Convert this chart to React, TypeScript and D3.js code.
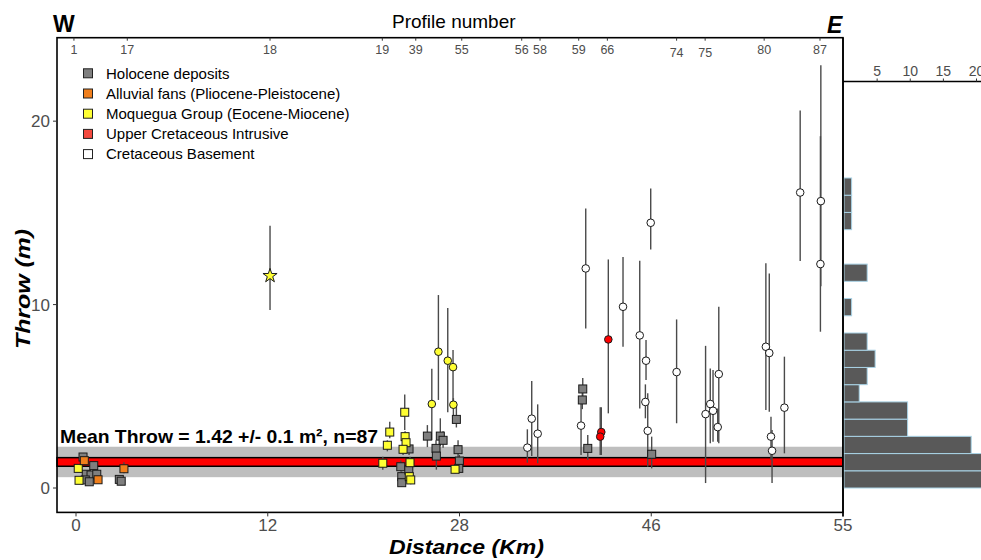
import React from "react";
import * as d3 from "d3";

// [distance km, throw m, low, high]
const holocene: number[][] = [
  [0.44, 1.69, 1.5, 1.9], [1.11, 1.22, 1.0, 1.45], [0.64, 0.75, 0.55, 0.95], [0.94, 0.71, 0.5, 0.9],
  [1.3, 0.75, 0.55, 0.95], [0.58, 0.44, 0.3, 0.6], [0.83, 0.34, 0.2, 0.5], [2.71, 0.47, 0.3, 0.65],
  [2.83, 0.37, 0.2, 0.55], [23.79, 2.13, 1.8, 2.5], [23.1, 1.16, 0.9, 1.5], [23.18, 0.62, 0.4, 0.9],
  [23.18, 0.29, 0.1, 0.5], [23.77, 0.98, 0.7, 1.3], [25.32, 2.83, 2.23, 3.43], [26.4, 2.83, 2.3, 3.8],
  [26.63, 2.6, 2.2, 3.1], [26.04, 2.16, 1.7, 2.6], [26.07, 1.74, 1.0, 2.1], [27.74, 3.74, 3.3, 4.6],
  [27.88, 2.09, 1.6, 2.6], [27.99, 1.47, 1.1, 1.8], [27.94, 1.07, 0.8, 1.4], [39.57, 5.4, 4.9, 6.0],
  [39.53, 4.8, 4.3, 5.4], [40.04, 2.16, 1.53, 2.89], [46.02, 1.84, 1.07, 2.8],
];
const alluvial: number[][] = [
  [0.52, 1.49, 1.3, 1.85], [1.38, 0.45, 0.3, 0.6], [3.0, 1.05, 0.8, 1.4],
];
const moqueguaSquares: number[][] = [
  [0.14, 1.07, 0.9, 1.25], [0.19, 0.42, 0.3, 0.55], [21.6, 1.35, 1.0, 1.7], [21.98, 2.33, 2.0, 2.6],
  [22.18, 3.05, 2.71, 3.61], [23.43, 4.13, 3.16, 5.1], [23.46, 2.8, 2.5, 3.1], [23.54, 2.47, 2.2, 2.8],
  [23.29, 2.11, 1.8, 2.4], [23.87, 1.38, 1.1, 1.7], [23.81, 0.62, 0.4, 0.9], [23.93, 0.44, 0.2, 0.7],
  [27.63, 1.02, 0.8, 1.3],
];
const moqueguaCircles: number[][] = [
  [26.24, 7.43, 4.8, 10.52], [27.02, 6.94, 4.13, 9.82], [27.46, 6.59, 4.52, 7.52],
  [25.69, 4.58, 2.6, 6.5], [27.49, 4.54, 3.52, 4.9],
];
const moqueguaStar: number[][] = [[12.19, 11.57, 9.7, 14.3]];
const intrusive: number[][] = [
  [41.31, 3.05, 1.8, 4.4], [41.21, 2.8, 1.8, 4.4], [41.97, 8.1, 4.07, 12.46],
];
const basement: number[][] = [
  [34.37, 2.2, 1.38, 3.2], [34.78, 3.78, 1.74, 5.83], [35.34, 2.96, 1.35, 4.56], [39.85, 11.97, 8.7, 15.24],
  [39.41, 3.4, 1.8, 4.63], [43.35, 9.88, 7.7, 12.6], [45.95, 14.46, 13.0, 16.33], [44.92, 8.32, 4.34, 12.39],
  [45.51, 6.94, 5.89, 8.07], [45.45, 4.69, 3.8, 5.65], [45.67, 3.12, 1.16, 5.16], [47.19, 6.32, 3.53, 9.19],
  [48.55, 4.03, 0.27, 7.75], [48.77, 4.58, 2.44, 6.52], [48.9, 4.21, 2.52, 6.43], [49.12, 3.32, 2.52, 4.34],
  [49.17, 6.21, 2.44, 9.88], [51.38, 7.7, 4.25, 12.25], [51.54, 7.36, 4.16, 11.7], [51.62, 2.8, 1.53, 3.89],
  [51.67, 2.03, 0.27, 3.16], [52.25, 4.38, 1.89, 7.16], [52.99, 16.11, 12.37, 20.58], [53.96, 15.64, 11.0, 23.05],
  [53.94, 12.21, 8.52, 19.18],
];

const xTicks = [0, 12, 28, 46, 55];
const yTicks = [0, 10, 20];
const profileNumbers = [1, 17, 18, 19, 39, 55, 56, 58, 59, 66, 74, 75, 80, 87];
const profileDistances = [-0.13, 3.21, 12.19, 21.56, 24.35, 28.21, 33.84, 35.56, 39.19, 41.88, 47.19, 48.53, 51.3, 53.92];

const meanThrow = 1.42;
const meanBandHalf = 0.235;
const greyBandHalf = 0.83;

const histBinWidth = 0.939;
const histCounts = [26, 26, 19.2, 9.6, 9.6, 2.3, 3.5, 4.7, 3.5, 0, 1.15, 0, 3.5, 0, 0, 1.15, 1.15, 1.15];
const histTicks = [5, 10, 15, 20];

const legendItems = [
  "Holocene deposits",
  "Alluvial fans (Pliocene-Pleistocene)",
  "Moquegua Group (Eocene-Miocene)",
  "Upper Cretaceous Intrusive",
  "Cretaceous Basement",
];
const legendColors = ["#7f7f7f", "#f07f1c", "#ffff33", "#f44a3f", "#ffffff"];

const FONT = "'Liberation Sans', Arial, Helvetica, sans-serif";

export default function App() {
  const W = 981, H = 560;
  const left = 57, right = 843, top = 37.7, bottom = 512.4;
  const x = d3.scaleLinear().domain(xTicks).range([76, 267.75, 459.5, 651.25, 843]);
  const y = d3.scaleLinear().domain([-1.33, 24.55]).range([bottom, top]);
  const hx = d3.scaleLinear().domain([0, 20]).range([844, 976.5]);
  const histAxisY = 81.5;

  const errColor = "#4a4a4a";
  const errBars = (data: number[][], key: string) =>
    data.map((d, i) => (
      <line key={key + i} x1={x(d[0])} x2={x(d[0])} y1={y(d[2])} y2={y(d[3])} stroke={errColor} strokeWidth={1.4} />
    ));
  const squares = (data: number[][], fill: string, key: string) =>
    data.map((d, i) => (
      <rect key={key + i} x={x(d[0]) - 4} y={y(d[1]) - 4} width={8} height={8} fill={fill} stroke="#1a1a1a" strokeWidth={1} />
    ));
  const circles = (data: number[][], fill: string, key: string) =>
    data.map((d, i) => (
      <circle key={key + i} cx={x(d[0])} cy={y(d[1])} r={3.8} fill={fill} stroke="#1a1a1a" strokeWidth={1} />
    ));
  const starPath = d3.symbol(d3.symbolStar, 62)() as string;

  return (
    <svg width={W} height={H} style={{ position: "absolute", left: 0, top: 0, background: "#fff" }} fontFamily={FONT}>
      {/* bands */}
      <rect x={left} width={right - left} y={y(meanThrow + greyBandHalf)} height={y(meanThrow - greyBandHalf) - y(meanThrow + greyBandHalf)} fill="#bebebe" />
      <rect x={left} width={right - left} y={y(meanThrow + meanBandHalf)} height={y(meanThrow - meanBandHalf) - y(meanThrow + meanBandHalf)} fill="#ff0000" stroke="#000" strokeWidth={1.5} />

      {/* error bars */}
      {errBars(basement, "eb")}
      {errBars(intrusive, "ei")}
      {errBars(moqueguaCircles, "emc")}
      {errBars(moqueguaStar, "ems")}
      {errBars(holocene, "eh")}
      {errBars(alluvial, "ea")}
      {errBars(moqueguaSquares, "ems2")}

      {/* points */}
      {circles(basement, "#ffffff", "pb")}
      {circles(intrusive, "#ff0000", "pi")}
      {circles(moqueguaCircles, "#ffff33", "pmc")}
      {moqueguaStar.map((d, i) => (
        <path key={"st" + i} d={starPath} transform={`translate(${x(d[0])},${y(d[1])})`} fill="#ffff33" stroke="#1a1a1a" strokeWidth={1} />
      ))}
      {squares(holocene, "#7f7f7f", "ph")}
      {squares(moqueguaSquares, "#ffff33", "pms")}
      {squares(alluvial, "#f07f1c", "pa")}

      {/* mean label */}
      <text x={60} y={443} fontSize={19} fontWeight="bold" textLength={318} lengthAdjust="spacingAndGlyphs" fill="#000">
        Mean Throw = 1.42 +/- 0.1 m², n=87
      </text>

      {/* panel border */}
      <rect x={left} y={top} width={right - left} height={bottom - top} fill="none" stroke="#000" strokeWidth={1.6} />

      {/* y axis */}
      {yTicks.map((t) => (
        <g key={"yt" + t}>
          <line x1={left - 4} x2={left} y1={y(t)} y2={y(t)} stroke="#333" />
          <text x={left - 7} y={y(t) + 6} textAnchor="end" fontSize={17} fill="#4d4d4d">{t}</text>
        </g>
      ))}
      {/* x axis */}
      {xTicks.map((t) => (
        <g key={"xt" + t}>
          <line x1={x(t)} x2={x(t)} y1={bottom} y2={bottom + 4} stroke="#333" />
          <text x={x(t)} y={531} textAnchor="middle" fontSize={17} fill="#4d4d4d">{t}</text>
        </g>
      ))}
      {/* top profile axis */}
      {profileNumbers.map((p, i) => (
        <g key={"pt" + p}>
          <line x1={x(profileDistances[i])} x2={x(profileDistances[i])} y1={top} y2={top + 3} stroke="#333" />
          <text x={x(profileDistances[i])} y={p === 74 || p === 75 ? 57 : 54} textAnchor="middle" fontSize={12.5} fill="#4d4d4d">{p}</text>
        </g>
      ))}

      <text x={392} y={28} fontSize={19} fill="#000">Profile number</text>
      <text x={53} y={31.5} fontSize={23} fontWeight="bold" fill="#000">W</text>
      <text x={827} y={33} fontSize={23} fontWeight="bold" fontStyle="italic" fill="#000">E</text>

      <text x={389} y={554} fontSize={20} fontWeight="bold" fontStyle="italic" textLength={155} lengthAdjust="spacingAndGlyphs" fill="#000">Distance (Km)</text>
      <text transform="translate(30,289) rotate(-90)" textAnchor="middle" fontSize={21} fontWeight="bold" fontStyle="italic" textLength={120} lengthAdjust="spacingAndGlyphs" fill="#000">Throw (m)</text>

      {/* legend */}
      {legendItems.map((s, i) => (
        <g key={"lg" + i}>
          <rect x={83.5} y={73.3 + i * 20.2 - 4.5} width={9} height={9} fill={legendColors[i]} stroke="#222" strokeWidth={1} />
          <text x={106} y={73.3 + i * 20.2 + 5.2} fontSize={15} fill="#000">{s}</text>
        </g>
      ))}

      {/* histogram */}
      {histCounts.map((c, i) =>
        c > 0 ? (
          <rect key={"h" + i} x={hx(0)} y={y((i + 1) * histBinWidth)} width={hx(c) - hx(0)} height={y(i * histBinWidth) - y((i + 1) * histBinWidth)} fill="#595959" stroke="#a9d3e6" strokeWidth={1} />
        ) : null
      )}
      <line x1={right} x2={W} y1={histAxisY} y2={histAxisY} stroke="#000" strokeWidth={1.4} />
      {histTicks.map((t) => (
        <g key={"ht" + t}>
          <line x1={hx(t)} x2={hx(t)} y1={histAxisY - 3} y2={histAxisY} stroke="#333" />
          <text x={hx(t)} y={76} textAnchor="middle" fontSize={14} fill="#4d4d4d">{t}</text>
        </g>
      ))}
      <line x1={right} x2={right} y1={top} y2={bottom + 4} stroke="#000" strokeWidth={1.6} />
    </svg>
  );
}
